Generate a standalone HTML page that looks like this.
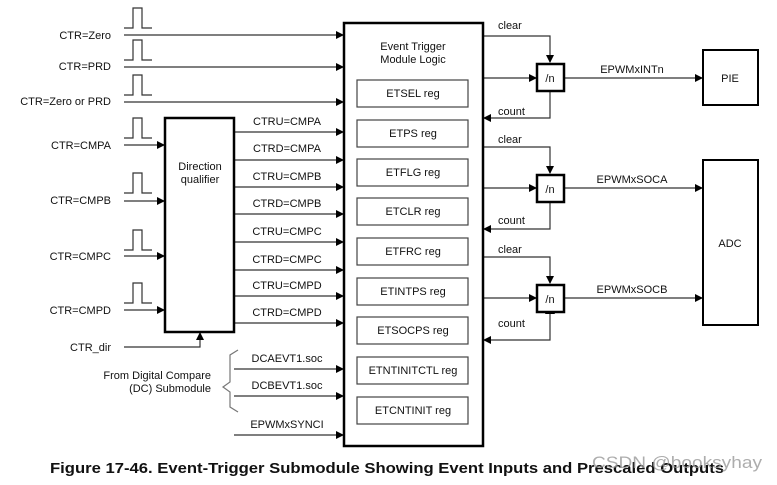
<!DOCTYPE html>
<html><head><meta charset="utf-8"><style>
html,body{margin:0;padding:0;background:#fff;width:777px;height:485px;overflow:hidden}
svg text{font-family:"Liberation Sans",sans-serif;font-size:11px;fill:#111}
</style></head><body>
<svg width="777" height="485" viewBox="0 0 777 485" xmlns="http://www.w3.org/2000/svg">
<defs>
<marker id="a" markerWidth="8" markerHeight="8" refX="7" refY="4" orient="auto" markerUnits="userSpaceOnUse"><path d="M0,0 L8,4 L0,8 z" fill="#000"/></marker>
</defs>
<g stroke="#333" stroke-width="1.2" fill="none">
<!-- pulses -->
<path d="M124,28 H133 V8 H142 V28 H152"/>
<path d="M124,60 H133 V40 H142 V60 H152"/>
<path d="M124,95 H133 V75 H142 V95 H152"/>
<path d="M124,138 H133 V118 H142 V138 H152"/>
<path d="M124,193 H133 V173 H142 V193 H152"/>
<path d="M124,250 H133 V230 H142 V250 H152"/>
<path d="M124,303 H133 V283 H142 V303 H152"/>
</g>
<g stroke="#333" stroke-width="1.2" marker-end="url(#a)">
<line x1="124" y1="35" x2="343" y2="35"/>
<line x1="124" y1="67" x2="343" y2="67"/>
<line x1="124" y1="102" x2="343" y2="102"/>
<line x1="124" y1="145" x2="164" y2="145"/>
<line x1="124" y1="201" x2="164" y2="201"/>
<line x1="124" y1="256" x2="164" y2="256"/>
<line x1="124" y1="310" x2="164" y2="310"/>
<line x1="234" y1="132" x2="343" y2="132"/>
<line x1="234" y1="160" x2="343" y2="160"/>
<line x1="234" y1="187" x2="343" y2="187"/>
<line x1="234" y1="214" x2="343" y2="214"/>
<line x1="234" y1="242" x2="343" y2="242"/>
<line x1="234" y1="270" x2="343" y2="270"/>
<line x1="234" y1="296" x2="343" y2="296"/>
<line x1="234" y1="323" x2="343" y2="323"/>
<line x1="234" y1="369" x2="343" y2="369"/>
<line x1="234" y1="396" x2="343" y2="396"/>
<line x1="234" y1="435" x2="343" y2="435"/>
<polyline points="124,347 200,347 200,333" fill="none"/>
<!-- right -->
<line x1="483" y1="78" x2="536" y2="78"/>
<line x1="483" y1="188" x2="536" y2="188"/>
<line x1="483" y1="298" x2="536" y2="298"/>
<line x1="564" y1="78" x2="702" y2="78"/>
<line x1="564" y1="188" x2="702" y2="188"/>
<line x1="564" y1="298" x2="702" y2="298"/>
<polyline points="483,36 550,36 550,62" fill="none"/>
<polyline points="483,147 550,147 550,173" fill="none"/>
<polyline points="483,257 550,257 550,283" fill="none"/>
<polyline points="550,91 550,118 484,118" fill="none"/>
<polyline points="550,202 550,229 484,229" fill="none"/>
<polyline points="550,313 550,340 484,340" fill="none"/>
</g>
<g fill="#000">
<path d="M545,92 L555,92 L550,83 z"/>
<path d="M545,203 L555,203 L550,194 z"/>
<path d="M545,314 L555,314 L550,305 z"/>
</g>
<!-- brace -->
<path d="M238,350 L230,355 V382 L223,387 L230,392 V407 L238,412" stroke="#777" stroke-width="1.2" fill="none"/>
<!-- boxes -->
<g stroke="#000" fill="#fff">
<rect x="344" y="23" width="139" height="423" stroke-width="2.5"/>
<rect x="165" y="118" width="69" height="214" stroke-width="2.5"/>
<rect x="537" y="64" width="27" height="27" stroke-width="2.5"/>
<rect x="537" y="175" width="27" height="27" stroke-width="2.5"/>
<rect x="537" y="285" width="27" height="27" stroke-width="2.5"/>
<rect x="703" y="50" width="55" height="55" stroke-width="2"/>
<rect x="703" y="160" width="55" height="165" stroke-width="2"/>
<g stroke="#444" stroke-width="1.2">
<rect x="357" y="80" width="111" height="27"/>
<rect x="357" y="120" width="111" height="27"/>
<rect x="357" y="159" width="111" height="27"/>
<rect x="357" y="198" width="111" height="27"/>
<rect x="357" y="238" width="111" height="27"/>
<rect x="357" y="278" width="111" height="27"/>
<rect x="357" y="317" width="111" height="27"/>
<rect x="357" y="357" width="111" height="27"/>
<rect x="357" y="397" width="111" height="27"/>
</g>
</g>
<g text-anchor="end">
<text x="111" y="39">CTR=Zero</text>
<text x="111" y="70">CTR=PRD</text>
<text x="111" y="105">CTR=Zero or PRD</text>
<text x="111" y="149">CTR=CMPA</text>
<text x="111" y="204">CTR=CMPB</text>
<text x="111" y="260">CTR=CMPC</text>
<text x="111" y="314">CTR=CMPD</text>
<text x="111" y="351">CTR_dir</text>
<text x="211" y="379">From Digital Compare</text>
<text x="211" y="392">(DC) Submodule</text>
</g>
<g text-anchor="middle">
<text x="200" y="170">Direction</text>
<text x="200" y="183">qualifier</text>
<text x="287" y="125">CTRU=CMPA</text>
<text x="287" y="152">CTRD=CMPA</text>
<text x="287" y="180">CTRU=CMPB</text>
<text x="287" y="207">CTRD=CMPB</text>
<text x="287" y="235">CTRU=CMPC</text>
<text x="287" y="263">CTRD=CMPC</text>
<text x="287" y="289">CTRU=CMPD</text>
<text x="287" y="316">CTRD=CMPD</text>
<text x="287" y="362">DCAEVT1.soc</text>
<text x="287" y="389">DCBEVT1.soc</text>
<text x="287" y="428">EPWMxSYNCI</text>
<text x="413" y="50">Event Trigger</text>
<text x="413" y="63">Module Logic</text>
<text x="413" y="97">ETSEL reg</text>
<text x="413" y="137">ETPS reg</text>
<text x="413" y="176">ETFLG reg</text>
<text x="413" y="215">ETCLR reg</text>
<text x="413" y="255">ETFRC reg</text>
<text x="413" y="295">ETINTPS reg</text>
<text x="413" y="334">ETSOCPS reg</text>
<text x="413" y="374">ETNTINITCTL reg</text>
<text x="413" y="414">ETCNTINIT reg</text>
<text x="550" y="82">/n</text>
<text x="550" y="193">/n</text>
<text x="550" y="303">/n</text>
<text x="632" y="73">EPWMxINTn</text>
<text x="632" y="183">EPWMxSOCA</text>
<text x="632" y="293">EPWMxSOCB</text>
<text x="730" y="82">PIE</text>
<text x="730" y="247">ADC</text>
</g>
<g>
<text x="498" y="29">clear</text>
<text x="498" y="115">count</text>
<text x="498" y="143">clear</text>
<text x="498" y="224">count</text>
<text x="498" y="253">clear</text>
<text x="498" y="327">count</text>
</g>
<text x="50" y="473" style="font-size:15px;font-weight:bold" textLength="674" lengthAdjust="spacingAndGlyphs">Figure 17-46. Event-Trigger Submodule Showing Event Inputs and Prescaled Outputs</text>
<text x="592" y="468" style="font-size:17px;fill:#999" fill-opacity="0.8" textLength="170" lengthAdjust="spacingAndGlyphs">CSDN @booksyhay</text>
</svg>
</body></html>
